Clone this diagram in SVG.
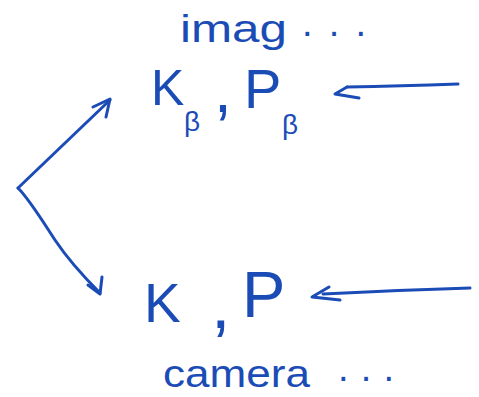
<svg xmlns="http://www.w3.org/2000/svg" width="479" height="397" viewBox="0 0 479 397">
  <style>
    .ink { fill: #1b4cb6; font-family: "Liberation Sans", "DejaVu Sans", sans-serif; }
    .stroke { fill: none; stroke: #1b4cb6; stroke-width: 3; stroke-linecap: round; stroke-linejoin: round; }
  </style>
  <rect width="479" height="397" fill="#ffffff"/>

  <!-- caption above the upper pair -->
  <g id="label-imag">
    <text class="ink" x="180" y="42" font-size="38" textLength="107" lengthAdjust="spacingAndGlyphs">imag</text>
    <text class="ink" x="302" y="36" font-size="38" textLength="64" lengthAdjust="spacing">...</text>
  </g>

  <!-- upper pair: K_beta , P_beta (subscripts as tspans) -->
  <g id="node-top">
    <text class="ink" x="151" y="105" font-size="50">K<tspan x="184" y="131" font-size="28">β</tspan><tspan x="214" y="112" font-size="64">,</tspan><tspan x="244" y="108" font-size="56">P</tspan><tspan x="282" y="134" font-size="28">β</tspan></text>
  </g>

  <!-- lower pair: K , P -->
  <g id="node-bottom">
    <text class="ink" x="144" y="322" font-size="55">K<tspan x="211" y="328" font-size="70">,</tspan><tspan x="242" y="317" font-size="65">P</tspan></text>
  </g>

  <!-- caption below the lower pair -->
  <g id="label-camera">
    <text class="ink" x="163" y="387" font-size="38" textLength="147" lengthAdjust="spacingAndGlyphs">camera</text>
    <text class="ink" x="338" y="381" font-size="38" textLength="56" lengthAdjust="spacing">...</text>
  </g>

  <g id="connectors">
    <!-- fork from the left point to both pairs -->
    <path class="stroke" d="M18,188 L110,100"/>
    <path class="stroke" d="M93,107 L110,99 L106,117"/>
    <path class="stroke" d="M18,188 C30,200 45,225 55,240 S85,278 100,293"/>
    <path class="stroke" d="M88,285 L100,294 L102,277"/>
    <!-- incoming arrows from the right -->
    <path class="stroke" d="M458,84 Q400,86 347,87"/>
    <path class="stroke" d="M347,87 L335,94 L359,98"/>
    <path class="stroke" d="M470,288 Q400,290 323,294"/>
    <path class="stroke" d="M329,287 L312,297 L340,300"/>
  </g>
</svg>
